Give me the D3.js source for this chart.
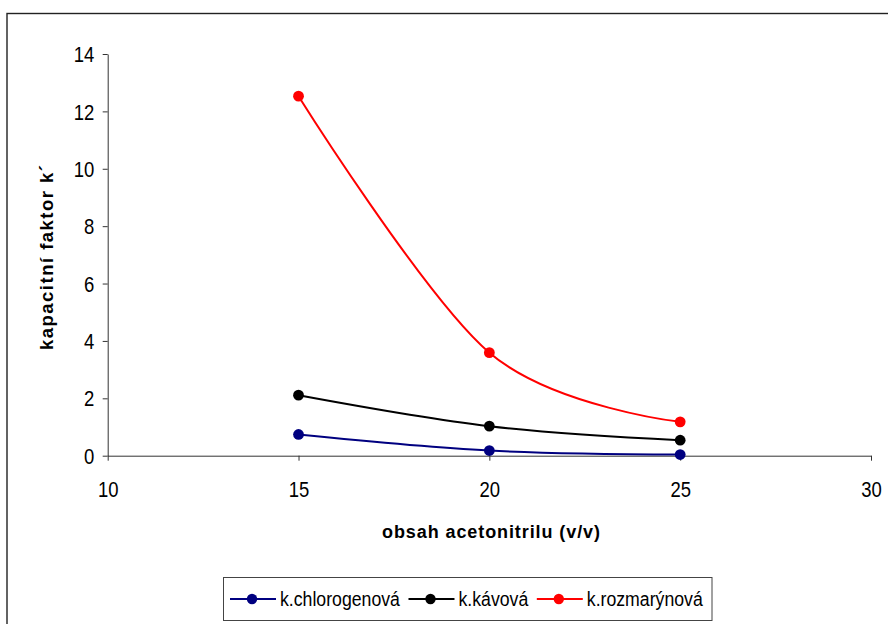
<!DOCTYPE html>
<html>
<head>
<meta charset="utf-8">
<script src="https://cdn.jsdelivr.net/npm/d3@7"></script>
<style>
  body { margin: 0; background: #fff; }
  svg { display: block; font-family: "Liberation Sans", Arial, sans-serif; }
</style>
</head>
<body>
<div id="base"></div>
<script>
// data
var xValues = [15, 20, 25];
var seriesNames = ["k.chlorogenová", "k.kávová", "k.rozmarýnová"];
var chlorogenova = [0.74, 0.18, 0.04];
var kavova = [2.11, 1.03, 0.54];
var rozmarynova = [12.53, 3.59, 1.18];
var seriesColors = ["#000080", "#000000", "#ff0000"];
var xTicks = [10, 15, 20, 25, 30];
var yTicks = [0, 2, 4, 6, 8, 10, 12, 14];

var width = 888, height = 624;
var textStretch = 1.15; // excel text looks a bit taller than normal

var series = [chlorogenova, kavova, rozmarynova].map((vals, i) => ({
  name: seriesNames[i],
  color: seriesColors[i],
  points: vals.map((v, j) => ({x: xValues[j], y: v}))
}));

var svg = d3.select("#base").append("svg")
    .attr("width", width)
    .attr("height", height);

// chart area frame (runs off the right and bottom edge)
svg.append("rect")
    .attr("x", 7).attr("y", 13.5)
    .attr("width", 1000).attr("height", 1000)
    .attr("fill", "none")
    .attr("stroke", "#222")
    .attr("stroke-width", 1.4);

var x = d3.scaleLinear().domain([10, 30]).range([107.7, 871]);
var y = d3.scaleLinear().domain([0, 14]).range([455.7, 54]);

// axes
var gx = svg.append("g")
    .attr("transform", `translate(0,${y(0)})`)
    .call(d3.axisBottom(x).tickValues(xTicks).tickSize(5).tickSizeOuter(0).tickFormat(d3.format("d")));
var gy = svg.append("g")
    .attr("transform", `translate(${x(10)},0)`)
    .call(d3.axisLeft(y).tickValues(yTicks).tickSize(5).tickSizeOuter(0).tickFormat(d3.format("d")));

[gx, gy].forEach(g => {
  g.select(".domain").attr("stroke", "#333");
  g.selectAll(".tick line").attr("stroke", "#333");
  g.selectAll(".tick text")
      .attr("fill", "#000")
      .attr("font-size", 18.5)
      .attr("font-family", "Liberation Sans, Arial, sans-serif");
});
gx.selectAll(".tick text")
    .attr("y", 23.2)
    .attr("transform", `scale(1,${textStretch})`);
gy.selectAll(".tick text")
    .attr("x", -13.5)
    .attr("dy", "0.36em")
    .attr("transform", `scale(1,${textStretch})`);

// axis titles
svg.append("text")
    .attr("x", 491).attr("y", 538)
    .attr("text-anchor", "middle")
    .attr("font-size", 18)
    .attr("font-weight", "bold")
    .attr("textLength", 218)
    .attr("lengthAdjust", "spacing")
    .text("obsah acetonitrilu (v/v)");

svg.append("text")
    .attr("transform", "translate(52.5,257.5) rotate(-90)")
    .attr("text-anchor", "middle")
    .attr("font-size", 18.5)
    .attr("font-weight", "bold")
    .attr("textLength", 185)
    .attr("lengthAdjust", "spacing")
    .text("kapacitní faktor k´");

// smoothed lines like excel
var line = d3.line()
    .x(d => x(d.x))
    .y(d => y(d.y))
    .curve(d3.curveCardinal.tension(0));

var sg = svg.append("g")
  .selectAll("g")
  .data(series)
  .join("g");

sg.append("path")
    .attr("d", d => line(d.points))
    .attr("fill", "none")
    .attr("stroke", d => d.color)
    .attr("stroke-width", 2);

sg.selectAll("circle")
  .data(d => d.points.map(p => ({...p, color: d.color})))
  .join("circle")
    .attr("cx", d => x(d.x))
    .attr("cy", d => y(d.y))
    .attr("r", 5.4)
    .attr("fill", d => d.color);

// legend
var legend = svg.append("g");
legend.append("rect")
    .attr("x", 223.5).attr("y", 577.5)
    .attr("width", 488.5).attr("height", 43)
    .attr("fill", "#fff")
    .attr("stroke", "#444")
    .attr("stroke-width", 1);

var lx = 230;
series.forEach(s => {
  var item = legend.append("g");
  item.append("line")
      .attr("x1", lx).attr("x2", lx + 46)
      .attr("y1", 599).attr("y2", 599)
      .attr("stroke", s.color)
      .attr("stroke-width", 2);
  item.append("circle")
      .attr("cx", lx + 22).attr("cy", 599)
      .attr("r", 5.2)
      .attr("fill", s.color);
  var t = item.append("text")
      .attr("x", lx + 50).attr("y", 605.8 / textStretch)
      .attr("transform", `scale(1,${textStretch})`)
      .attr("font-size", 17.7)
      .text(s.name);
  lx += 50 + t.node().getComputedTextLength() + 8.5;
});
</script>
</body>
</html>
